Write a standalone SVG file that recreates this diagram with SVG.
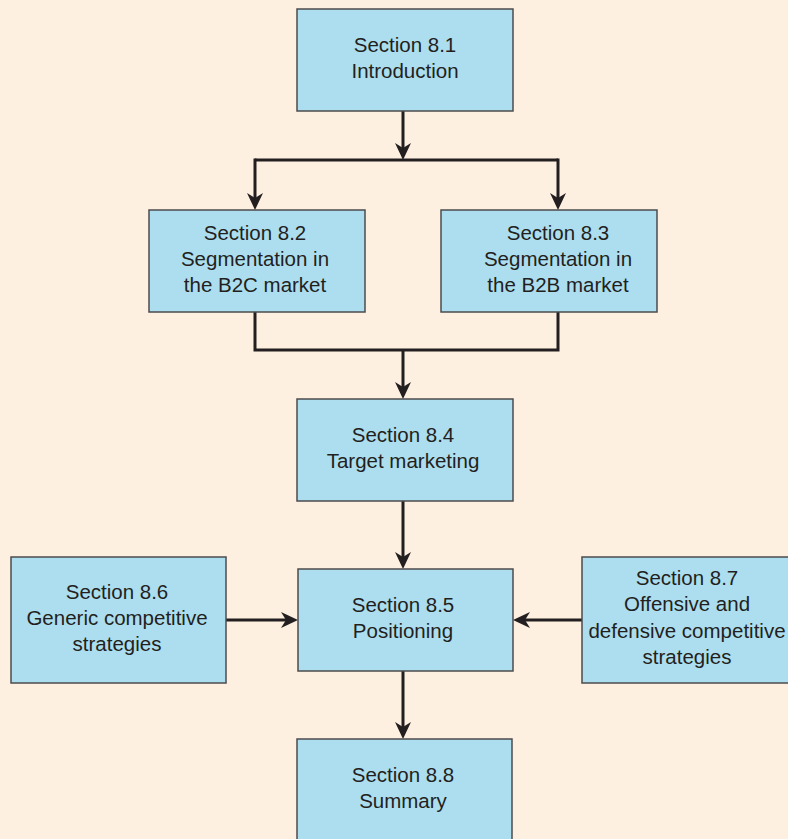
<svg xmlns="http://www.w3.org/2000/svg" width="788" height="839" viewBox="0 0 788 839">
  <defs>
    <!-- filled arrowhead with notched back; tip sits 9px past the line end -->
    <marker id="arrow" markerUnits="userSpaceOnUse" viewBox="-18 -9 19 18" markerWidth="19" markerHeight="18" refX="-9" refY="0" orient="auto">
      <path d="M0,0 L-17,-8 L-12,0 L-17,8 Z" fill="#231F20"/>
    </marker>
    <style>
      .box { fill: #ACDEEF; stroke: #4B4B4D; stroke-width: 1.5; }
      .lbl { font-family: "Liberation Sans", Arial, Helvetica, sans-serif; font-size: 20.5px; fill: #231F20; text-anchor: middle; }
      .conn { fill: none; stroke: #231F20; stroke-width: 3; }
    </style>
  </defs>

  <rect x="0" y="0" width="788" height="839" fill="#FEF0E1"/>

  <g id="connectors">
    <path class="conn" d="M403,111 V151" marker-end="url(#arrow)"/>
    <path class="conn" d="M255,160 H558"/>
    <path class="conn" d="M255,158.5 V201" marker-end="url(#arrow)"/>
    <path class="conn" d="M558,158.5 V201" marker-end="url(#arrow)"/>
    <path class="conn" d="M255,312 V350 H558 V312"/>
    <path class="conn" d="M403,350 V390" marker-end="url(#arrow)"/>
    <path class="conn" d="M403,501 V560" marker-end="url(#arrow)"/>
    <path class="conn" d="M226,620 H289" marker-end="url(#arrow)"/>
    <path class="conn" d="M582,620 H522" marker-end="url(#arrow)"/>
    <path class="conn" d="M403,671 V730" marker-end="url(#arrow)"/>
  </g>

  <g id="s81">
    <rect class="box" x="297" y="9" width="216" height="102"/>
    <text class="lbl" x="405" y="52">Section 8.1</text>
    <text class="lbl" x="405" y="78">Introduction</text>
  </g>

  <g id="s82">
    <rect class="box" x="149" y="210" width="216" height="102"/>
    <text class="lbl" x="255" y="240">Section 8.2</text>
    <text class="lbl" x="255" y="266">Segmentation in</text>
    <text class="lbl" x="255" y="292">the B2C market</text>
  </g>

  <g id="s83">
    <rect class="box" x="441" y="210" width="216" height="102"/>
    <text class="lbl" x="558" y="240">Section 8.3</text>
    <text class="lbl" x="558" y="266">Segmentation in</text>
    <text class="lbl" x="558" y="292">the B2B market</text>
  </g>

  <g id="s84">
    <rect class="box" x="297" y="399" width="216" height="102"/>
    <text class="lbl" x="403" y="442">Section 8.4</text>
    <text class="lbl" x="403" y="468">Target marketing</text>
  </g>

  <g id="s85">
    <rect class="box" x="298" y="569" width="215" height="102"/>
    <text class="lbl" x="403" y="612">Section 8.5</text>
    <text class="lbl" x="403" y="638">Positioning</text>
  </g>

  <g id="s86">
    <rect class="box" x="11" y="557" width="215" height="126"/>
    <text class="lbl" x="117" y="599">Section 8.6</text>
    <text class="lbl" x="117" y="625">Generic competitive</text>
    <text class="lbl" x="117" y="651">strategies</text>
  </g>

  <g id="s87">
    <rect class="box" x="582" y="557" width="215" height="126"/>
    <text class="lbl" x="687" y="585">Section 8.7</text>
    <text class="lbl" x="687" y="611">Offensive and</text>
    <text class="lbl" x="687" y="638">defensive competitive</text>
    <text class="lbl" x="687" y="664">strategies</text>
  </g>

  <g id="s88">
    <rect class="box" x="297" y="739" width="215" height="110"/>
    <text class="lbl" x="403" y="782">Section 8.8</text>
    <text class="lbl" x="403" y="808">Summary</text>
  </g>
</svg>
